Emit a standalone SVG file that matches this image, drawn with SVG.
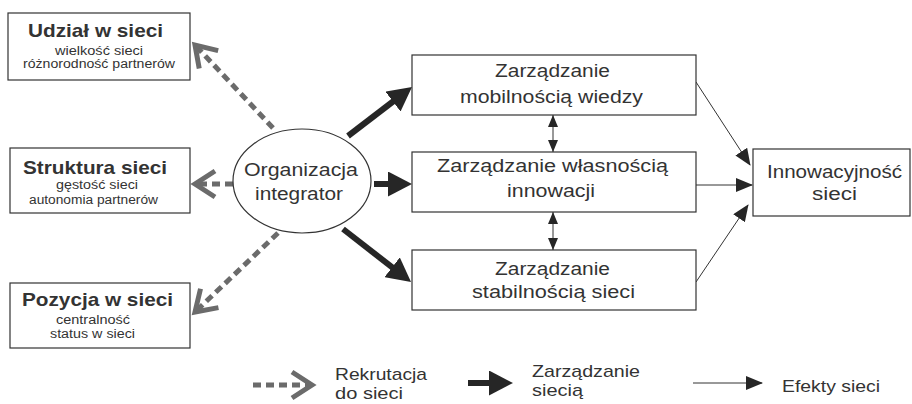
<svg xmlns="http://www.w3.org/2000/svg" width="912" height="404" viewBox="0 0 912 404">
<defs>
<style>
text{font-family:"Liberation Sans",Arial,sans-serif;fill:#333;}
.b{font-weight:bold;font-size:18.5px;}
.s{font-size:12px;}
.m{font-size:17.5px;}
.l{font-size:17px;}
.box{fill:#fff;stroke:#333;stroke-width:1.2;}
.dash{fill:none;stroke:#6b6b6b;stroke-width:5;stroke-dasharray:8 5;marker-end:url(#chev);}
.thick{fill:none;stroke:#262626;stroke-width:6;marker-end:url(#thick);}
.thin{fill:none;stroke:#333;stroke-width:1;marker-end:url(#thin);}
.dbl{fill:none;stroke:#333;stroke-width:1;marker-start:url(#dh);marker-end:url(#dh);}
</style>
<marker id="chev" markerUnits="userSpaceOnUse" viewBox="-4 -4 30 34" markerWidth="30" markerHeight="34" refX="20" refY="13" orient="auto" overflow="visible">
<path d="M0,0 L20,13 L0,26" fill="none" stroke="#6b6b6b" stroke-width="5"/>
</marker>
<marker id="thick" markerUnits="userSpaceOnUse" viewBox="0 0 24 25" markerWidth="24" markerHeight="25" refX="10" refY="12.5" orient="auto">
<path d="M0,0 L24,12.5 L0,25 z" fill="#262626"/>
</marker>
<marker id="thin" markerUnits="userSpaceOnUse" viewBox="0 0 17 14" markerWidth="17" markerHeight="14" refX="16" refY="7" orient="auto">
<path d="M0,0 L17,7 L0,14 z" fill="#262626"/>
</marker>
<marker id="dh" markerUnits="userSpaceOnUse" viewBox="0 0 12 10" markerWidth="12" markerHeight="10" refX="12" refY="5" orient="auto-start-reverse">
<path d="M0,0 L12,5 L0,10 z" fill="#262626"/>
</marker>
</defs>

<g id="connectors">
<line class="dash" x1="273" y1="128" x2="195" y2="45"/>
<line class="dash" x1="233" y1="184" x2="195" y2="184"/>
<line class="dash" x1="278" y1="233" x2="195" y2="312"/>
<line class="thick" x1="348" y1="136" x2="400.9" y2="95.5"/>
<line class="thick" x1="374" y1="184" x2="398" y2="184"/>
<line class="thick" x1="343" y1="229" x2="400" y2="273.4"/>
<line class="dbl" x1="553" y1="115" x2="553" y2="152"/>
<line class="dbl" x1="553" y1="212" x2="553" y2="250"/>
<line class="thin" x1="696" y1="82" x2="750" y2="165"/>
<line class="thin" x1="696" y1="185" x2="752" y2="185"/>
<line class="thin" x1="696" y1="282" x2="748" y2="205"/>
</g>

<g id="udzial">
<rect class="box" x="8" y="13" width="182" height="67"/>
<text class="b" x="28" y="37" textLength="135" lengthAdjust="spacingAndGlyphs">Udział w sieci</text>
<text class="s" x="55" y="55" textLength="88" lengthAdjust="spacingAndGlyphs">wielkość sieci</text>
<text class="s" x="23" y="68" textLength="152" lengthAdjust="spacingAndGlyphs">różnorodność partnerów</text>
</g>

<g id="struktura">
<rect class="box" x="10" y="148" width="180" height="65"/>
<text class="b" x="23" y="174" textLength="144" lengthAdjust="spacingAndGlyphs">Struktura sieci</text>
<text class="s" x="56" y="189" textLength="82" lengthAdjust="spacingAndGlyphs">gęstość sieci</text>
<text class="s" x="29" y="204" textLength="129" lengthAdjust="spacingAndGlyphs">autonomia partnerów</text>
</g>

<g id="pozycja">
<rect class="box" x="10" y="283" width="180" height="65"/>
<text class="b" x="22" y="306" textLength="151" lengthAdjust="spacingAndGlyphs">Pozycja w sieci</text>
<text class="s" x="56" y="324" textLength="74" lengthAdjust="spacingAndGlyphs">centralność</text>
<text class="s" x="50" y="338" textLength="85" lengthAdjust="spacingAndGlyphs">status w sieci</text>
</g>

<g id="organizacja">
<ellipse cx="302" cy="181" rx="69" ry="52" fill="#fff" stroke="#333" stroke-width="1.2"/>
<text class="m" x="244" y="176" textLength="114" lengthAdjust="spacingAndGlyphs">Organizacja</text>
<text class="m" x="255" y="200" textLength="88" lengthAdjust="spacingAndGlyphs">integrator</text>
</g>

<g id="mobilnosc">
<rect class="box" x="412" y="55" width="284" height="60"/>
<text class="m" x="495" y="77" textLength="115" lengthAdjust="spacingAndGlyphs">Zarządzanie</text>
<text class="m" x="460" y="103" textLength="183" lengthAdjust="spacingAndGlyphs">mobilnością wiedzy</text>
</g>

<g id="wlasnosc">
<rect class="box" x="412" y="152" width="284" height="60"/>
<text class="m" x="437" y="172" textLength="231" lengthAdjust="spacingAndGlyphs">Zarządzanie własnością</text>
<text class="m" x="507" y="197" textLength="88" lengthAdjust="spacingAndGlyphs">innowacji</text>
</g>

<g id="stabilnosc">
<rect class="box" x="412" y="250" width="284" height="60"/>
<text class="m" x="495" y="275" textLength="115" lengthAdjust="spacingAndGlyphs">Zarządzanie</text>
<text class="m" x="472" y="298" textLength="163" lengthAdjust="spacingAndGlyphs">stabilnością sieci</text>
</g>

<g id="innowacyjnosc">
<rect class="box" x="753" y="149" width="157" height="67"/>
<text class="m" x="767" y="178" textLength="135" lengthAdjust="spacingAndGlyphs">Innowacyjność</text>
<text class="m" x="812" y="200" textLength="45" lengthAdjust="spacingAndGlyphs">sieci</text>
</g>

<g id="legend">
<line class="dash" x1="253" y1="385" x2="312" y2="385"/>
<text class="l" x="335" y="380" textLength="92" lengthAdjust="spacingAndGlyphs">Rekrutacja</text>
<text class="l" x="335" y="399" textLength="68" lengthAdjust="spacingAndGlyphs">do sieci</text>
<line class="thick" x1="468" y1="383" x2="499" y2="383"/>
<text class="l" x="532" y="377" textLength="108" lengthAdjust="spacingAndGlyphs">Zarządzanie</text>
<text class="l" x="532" y="396" textLength="51" lengthAdjust="spacingAndGlyphs">siecią</text>
<line class="thin" x1="693" y1="383" x2="762" y2="383"/>
<text class="l" x="782" y="392" textLength="98" lengthAdjust="spacingAndGlyphs">Efekty sieci</text>
</g>
</svg>
